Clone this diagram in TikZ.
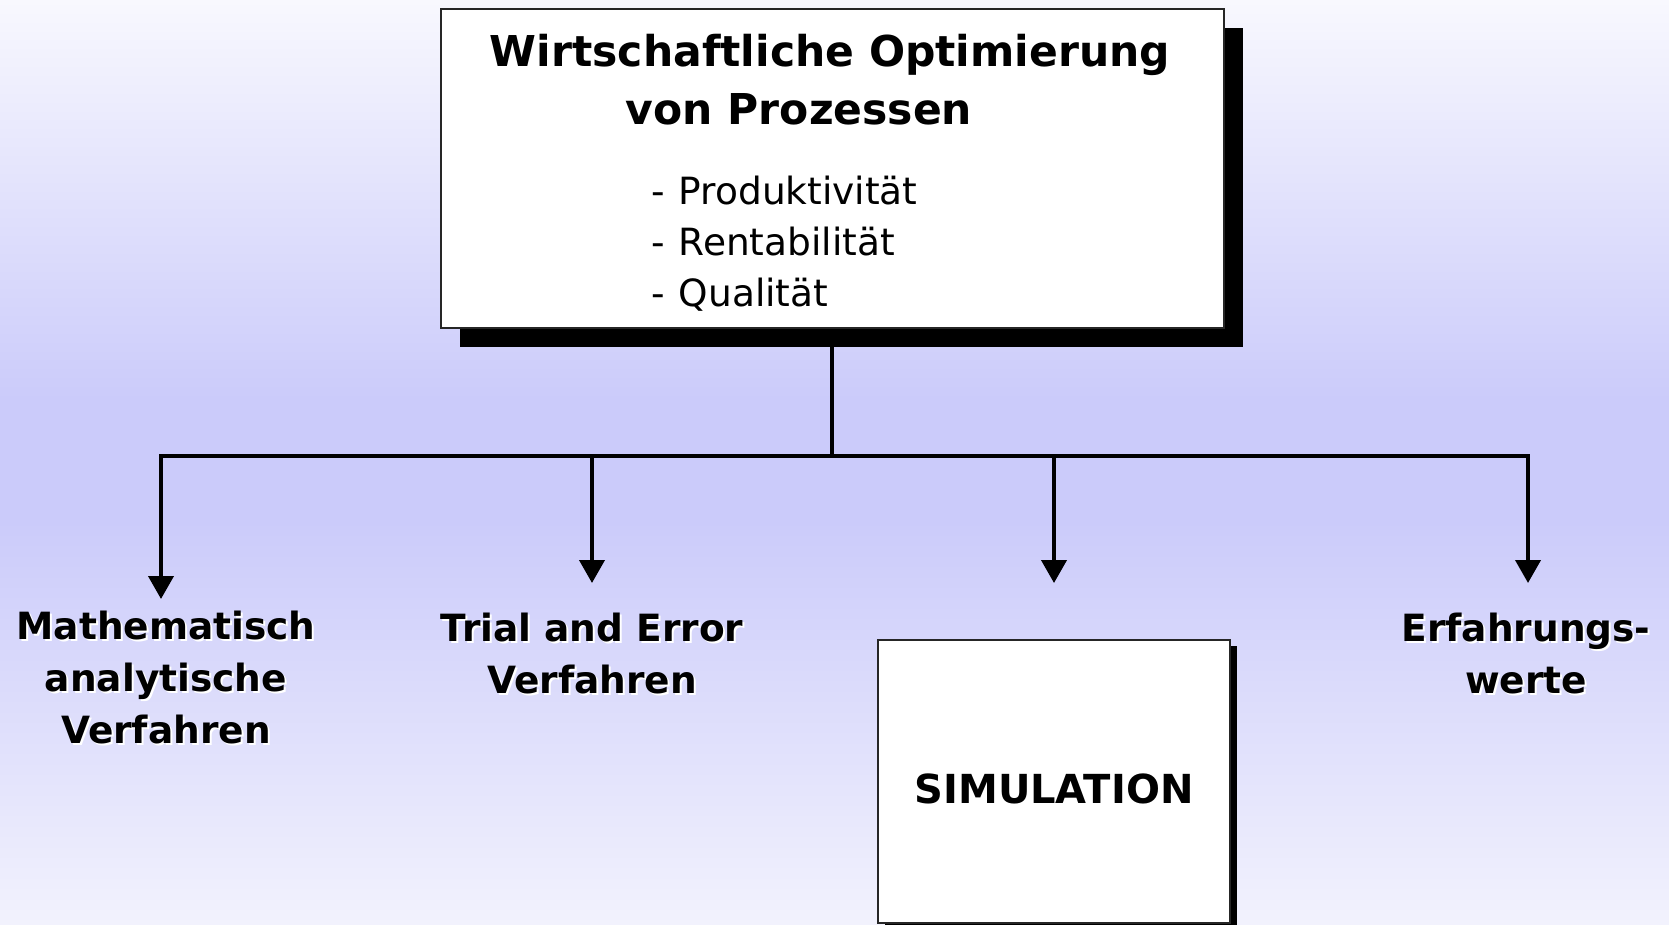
\documentclass[tikz,border=0pt]{standalone}
\usepackage{fontspec}
\setmainfont{DejaVu Sans}
\usetikzlibrary{arrows.meta,shadows}

\definecolor{bgtop}{HTML}{F8F8FE}
\definecolor{bgmid}{HTML}{CBCBFA}
\definecolor{bgbot}{HTML}{F2F2FD}

\pgfdeclarelayer{backdrop}
\pgfdeclarelayer{wires}
\pgfsetlayers{backdrop,wires,main}

% label with a white offset copy underneath
\newcommand\castlabel[3]{%
  \node[lbl,text=white] at ([shift={(2,2)}]#2) {#3};
  \node[lbl] (#1) at (#2) {#3};}

\begin{document}
\begin{tikzpicture}[x=1pt,y=-1pt,
  conn/.style={line width=4pt,line join=miter},
  arr/.style={conn,-{Triangle[width=25pt,length=23pt]}},
  box/.style={draw=black!85,line width=1.5pt,fill=white,inner sep=0pt},
  lbl/.style={font=\bfseries\fontsize{37.5}{52}\selectfont,align=center,inner sep=0pt,anchor=base},
  title/.style={font=\bfseries\fontsize{42.5}{57}\selectfont,inner sep=0pt,anchor=base},
  item/.style={font=\fontsize{37.5}{50}\selectfont,inner sep=0pt,anchor=base west},
]
\useasboundingbox (0,0) rectangle (1669,925);
\begin{pgfonlayer}{backdrop}
\shade[top color=bgtop, bottom color=bgmid] (0,0) rectangle (1669,400);
\fill[bgmid] (0,399) rectangle (1669,521);
\shade[top color=bgmid, bottom color=bgbot] (0,520) rectangle (1669,925);
\end{pgfonlayer}

% head box with its heavy shadow
\node[box,minimum width=783pt,minimum height=318.5pt,anchor=north west,
      drop shadow={shadow xshift=19pt,shadow yshift=-19pt,opacity=1,fill=black}]
      (head) at (440,8.5) {};

\node[title] (t1) at (830,67) {Wirtschaftliche Optimierung};
\node[title] (t2) at (799,124.5) {von Prozessen};
\node[item] (i1) at (651,205) {-\hspace{14pt}Produktivität};
\node[item] (i2) at (651,255.5) {-\hspace{14pt}Rentabilität};
\node[item] (i3) at (651,306.5) {-\hspace{14pt}Qualität};

% branch point and arrow tips
\coordinate (j) at (head.south |- 0,456);
\coordinate (tipA) at (161,599);
\coordinate (tipB) at (592,583);
\coordinate (tipC) at (1054,583);
\coordinate (tipD) at (1528,583);

\begin{pgfonlayer}{wires}
\draw[arr] (head.south) -- (j) -| (tipA);
\draw[arr] (j) -| (tipD);
\draw[arr] (j -| tipB) -- (tipB);
\draw[arr] (j -| tipC) -- (tipC);
\end{pgfonlayer}

\castlabel{la}{166,743}{Mathematisch\\analytische\\Verfahren}
\castlabel{lb}{592,693}{Trial and Error\\Verfahren}
\castlabel{ld}{1526,693}{Erfahrungs-\\werte}

\node[box,minimum width=352pt,text height=163pt,text depth=120pt,anchor=base,
      font=\bfseries\fontsize{40}{48}\selectfont,
      drop shadow={shadow xshift=7pt,shadow yshift=-6pt,opacity=1,fill=black}]
      (sim) at (1054,803) {SIMULATION};
\end{tikzpicture}
\end{document}
